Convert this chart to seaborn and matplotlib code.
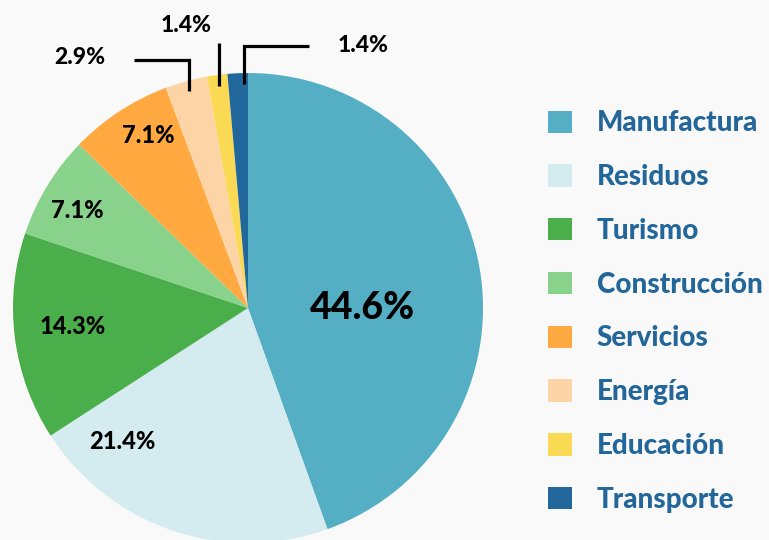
import matplotlib
matplotlib.use("Agg")
import matplotlib.pyplot as plt
import seaborn as sns
import numpy as np
from matplotlib.patches import Patch

# ---- data ----
categories = ["Manufactura", "Residuos", "Turismo", "Construcción",
              "Servicios", "Energía", "Educación", "Transporte"]
shares = [44.6, 21.4, 14.3, 7.1, 7.1, 2.9, 1.4, 1.4]
labels = ["44.6%", "21.4%", "14.3%", "7.1%", "7.1%", "2.9%", "1.4%", "1.4%"]
palette = ["#55AFC4", "#D4EBF0", "#4AAE4A", "#88D28B",
           "#FFA940", "#FDD4A6", "#FAD955", "#22679B"]

sns.set_style("white")
plt.rcParams["font.family"] = ["Lato", "DejaVu Sans"]

BG = "#F9F9F9"
fig = plt.figure(figsize=(7.69, 5.40), dpi=100, facecolor=BG)
ax = fig.add_axes([0, 0, 1, 1])
ax.set_facecolor(BG)

colors = sns.color_palette(palette)
wedges, _ = ax.pie(shares, colors=colors, startangle=90, counterclock=False,
                   radius=1, center=(0, 0), wedgeprops=dict(linewidth=0))

R = 235.0
ax.set_xlim(-248 / R, (769 - 248) / R)
ax.set_ylim(-(540 - 308) / R, 308 / R)
ax.set_aspect("equal")
ax.axis("off")

# inside labels (label anchor positions in data units)
inside_pos = {0: (0.485, 0.0), 1: (-0.536, -0.57), 2: (-0.745, -0.077),
              3: (-0.728, 0.417), 4: (-0.426, 0.732)}
for i, (x, y) in inside_pos.items():
    fs = 27 if i == 0 else 17
    ax.text(x, y, labels[i], ha="center", va="center", fontsize=fs,
            fontweight="black", color="black")

# outside labels with leader lines
outside = {5: dict(ytop=1.055, xend=-0.485, txt=(-0.715, 1.068)),
           6: dict(ytop=1.128, xend=None, txt=(-0.264, 1.20)),
           7: dict(ytop=1.115, xend=0.26, txt=(0.489, 1.119))}
for i, spec in outside.items():
    w = wedges[i]
    ang = np.deg2rad((w.theta1 + w.theta2) / 2)
    x0, y0 = 0.955 * np.cos(ang), 0.955 * np.sin(ang)
    if i == 7:
        x0 = x0 * 0.45
    xs = [x0, x0]
    ys = [y0, spec["ytop"]]
    if spec["xend"] is not None:
        xs.append(spec["xend"])
        ys.append(spec["ytop"])
    ax.plot(xs, ys, color="black", lw=2.3, solid_capstyle="butt",
            solid_joinstyle="miter", clip_on=False)
    ax.text(spec["txt"][0], spec["txt"][1], labels[i], ha="center",
            va="center", fontsize=16.5, fontweight="black", color="black")

handles = [Patch(facecolor=c, edgecolor="none") for c in colors]
leg = ax.legend(handles, categories, loc="center left",
                bbox_to_anchor=(0.7126, 0.423), frameon=False,
                fontsize=20, handlelength=0.86, handleheight=0.86,
                handletextpad=0.9, labelspacing=1.0, borderpad=0,
                borderaxespad=0)
for t in leg.get_texts():
    t.set_color("#23669A")
    t.set_fontweight("black")

fig.savefig("out.png", dpi=100, facecolor=BG)
